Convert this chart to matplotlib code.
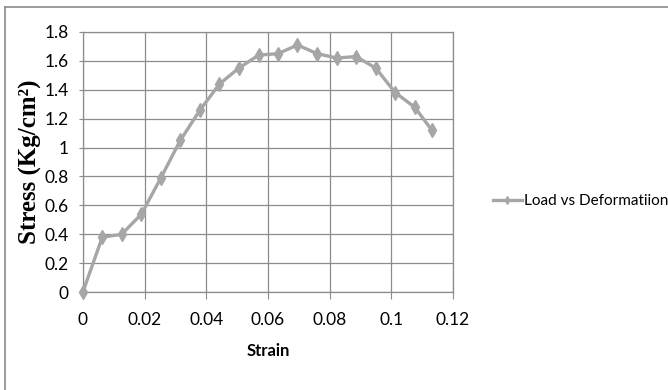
import matplotlib.pyplot as plt
from matplotlib.lines import Line2D

# data
strain = [0, 0.0063, 0.0126, 0.019, 0.0253, 0.0316, 0.038, 0.0443, 0.0506,
          0.057, 0.0633, 0.0696, 0.076, 0.0823, 0.0886, 0.095, 0.1013, 0.1076, 0.1132]
stress = [0, 0.38, 0.40, 0.54, 0.79, 1.05, 1.26, 1.44, 1.55,
          1.64, 1.65, 1.71, 1.65, 1.62, 1.63, 1.55, 1.38, 1.28, 1.12]
xticks = [0, 0.02, 0.04, 0.06, 0.08, 0.1, 0.12]
xticklabels = ['0', '0.02', '0.04', '0.06', '0.08', '0.1', '0.12']
yticks = [0, 0.2, 0.4, 0.6, 0.8, 1, 1.2, 1.4, 1.6, 1.8]
yticklabels = ['0', '0.2', '0.4', '0.6', '0.8', '1', '1.2', '1.4', '1.6', '1.8']

narrow = ['Lato', 'DejaVu Sans']
grey = '#a6a6a6'
gridc = '#8c8c8c'

fig = plt.figure(figsize=(6.68, 3.9), dpi=100)
ax = fig.add_axes([0.124, 0.251, 0.554, 0.667])

# outer chart border (only top and left visible)
fig.add_artist(Line2D([0.008, 0.008], [0, 0.982], color='#8c8c8c', lw=1.2,
                      transform=fig.transFigure))
fig.add_artist(Line2D([0.008, 1.0], [0.982, 0.982], color='#8c8c8c', lw=1.2,
                      transform=fig.transFigure))

ax.plot(strain, stress, color=grey, lw=2.4, marker='d', ms=7,
        mfc=grey, mec=grey, label='Load vs Deformatiion', zorder=3, clip_on=False)

ax.set_xlim(0, 0.12)
ax.set_ylim(0, 1.8)
ax.set_xticks(xticks)
ax.set_xticklabels(xticklabels, family=narrow, fontsize=12.5)
ax.set_yticks(yticks)
ax.set_yticklabels(yticklabels, family=narrow, fontsize=12.5)
ax.grid(True, color=gridc, lw=0.9)
ax.set_axisbelow(True)
for s in ax.spines.values():
    s.set_color(gridc)
    s.set_linewidth(0.9)
ax.tick_params(axis='x', length=5, color=gridc, pad=9)
ax.tick_params(axis='y', length=3, color=gridc, pad=7)

ax.set_xlabel('Strain', family=narrow, fontweight='bold', fontsize=12, labelpad=11)
ax.set_ylabel('Stress (Kg/cm\u00b2)', family=['Liberation Serif', 'DejaVu Serif'],
              fontweight='bold', fontsize=18, labelpad=2)

leg = ax.legend(loc='center left', bbox_to_anchor=(1.07, 0.35), frameon=False,
                prop={'family': narrow, 'size': 11}, handlelength=1.9,
                handletextpad=0.15, markerscale=0.6)

fig.savefig('out.png', dpi=100)
